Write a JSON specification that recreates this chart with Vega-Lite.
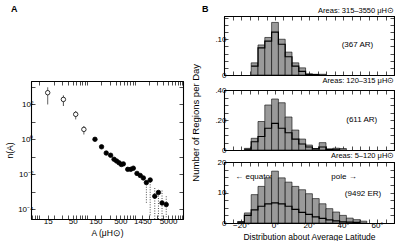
{
  "$schema": "https://vega.github.io/schema/vega-lite/v6.json",
  "padding": {"left": 5, "top": 4, "right": 0, "bottom": 0},
  "spacing": 6,
  "config": {
    "font": "Liberation Sans",
    "view": {"stroke": "black", "strokeWidth": 1},
    "axis": {"domain": true, "domainColor": "black", "domainWidth": 1.1, "grid": false, "tickColor": "black", "tickSize": -4, "tickWidth": 0.7, "labelFontSize": 8, "labelColor": "black", "labelPadding": 2, "titleFontSize": 8.5, "titleFontWeight": "normal", "titleColor": "black", "labelOverlap": false, "labelFlush": false},
    "title": {"fontSize": 9, "fontWeight": "bold", "color": "black"}
  },
  "datasets": {
    "areas": [
      {"area": 15, "n": 470, "lo": 100, "hi": 950, "kind": "open", "bar": "solid"},
      {"area": 32, "n": 193, "lo": 81, "hi": 330, "kind": "open", "bar": "solid"},
      {"area": 58, "n": 27, "lo": 13.9, "hi": 42, "kind": "open", "bar": "solid"},
      {"area": 86, "n": 3.7, "lo": 1.9, "hi": 5.8, "kind": "open", "bar": "solid"},
      {"area": 147, "n": 1.0, "kind": "filled"},
      {"area": 202, "n": 0.37, "kind": "filled"},
      {"area": 253, "n": 0.163, "kind": "filled"},
      {"area": 313, "n": 0.122, "kind": "filled"},
      {"area": 369, "n": 0.072, "kind": "filled"},
      {"area": 417, "n": 0.057, "kind": "filled"},
      {"area": 470, "n": 0.045, "kind": "filled"},
      {"area": 525, "n": 0.036, "kind": "filled"},
      {"area": 578, "n": 0.039, "kind": "filled"},
      {"area": 715, "n": 0.019, "kind": "filled"},
      {"area": 826, "n": 0.019, "kind": "filled"},
      {"area": 936, "n": 0.022, "kind": "filled"},
      {"area": 1117, "n": 0.0111, "kind": "filled"},
      {"area": 1310, "n": 0.0084, "kind": "filled"},
      {"area": 1520, "n": 0.0061, "kind": "filled"},
      {"area": 1758, "n": 0.0033, "lo": 0.00023, "hi": 0.0045, "kind": "filled", "bar": "dotted"},
      {"area": 2113, "n": 0.00467, "lo": 0.000044, "hi": 0.006, "kind": "filled", "bar": "dotted"},
      {"area": 2636, "n": 0.00055, "lo": 0.00001, "hi": 0.0017, "kind": "filled", "bar": "dotted"},
      {"area": 3148, "n": 0.0009, "lo": 0.00001, "hi": 0.0013, "kind": "filled", "bar": "dotted"},
      {"area": 3744, "n": 0.000226, "lo": 0.00001, "hi": 0.00117, "kind": "filled", "bar": "dotted"},
      {"area": 4586, "n": 0.000181, "lo": 0.000034, "hi": 0.00061, "kind": "filled", "bar": "dotted"}
    ],
    "top": [
      {"start": -14, "end": -10, "all": 0.034, "sub": 0.025},
      {"start": -10, "end": -6, "all": 0.084, "sub": 0.076},
      {"start": -6, "end": -2, "all": 0.105, "sub": 0.095},
      {"start": -2, "end": 2, "all": 0.147, "sub": 0.12},
      {"start": 2, "end": 6, "all": 0.10, "sub": 0.086},
      {"start": 6, "end": 10, "all": 0.064, "sub": 0.051},
      {"start": 10, "end": 14, "all": 0.034, "sub": 0.025},
      {"start": 14, "end": 18, "all": 0.02, "sub": 0.01},
      {"start": 18, "end": 22, "all": 0.003, "sub": 0.002},
      {"start": 22, "end": 26, "all": 0.002, "sub": 0.001},
      {"start": 26, "end": 30, "all": 0.002, "sub": 0.001}
    ],
    "mid": [
      {"start": -18, "end": -14, "all": 0.011, "sub": 0.005},
      {"start": -14, "end": -10, "all": 0.078, "sub": 0.055},
      {"start": -10, "end": -6, "all": 0.19, "sub": 0.09},
      {"start": -6, "end": -2, "all": 0.30, "sub": 0.145},
      {"start": -2, "end": 2, "all": 0.34, "sub": 0.178},
      {"start": 2, "end": 6, "all": 0.315, "sub": 0.145},
      {"start": 6, "end": 10, "all": 0.22, "sub": 0.115},
      {"start": 10, "end": 14, "all": 0.133, "sub": 0.072},
      {"start": 14, "end": 18, "all": 0.073, "sub": 0.04},
      {"start": 18, "end": 22, "all": 0.033, "sub": 0.02},
      {"start": 22, "end": 26, "all": 0.01, "sub": 0.008},
      {"start": 26, "end": 30, "all": 0.049, "sub": 0.02},
      {"start": 30, "end": 34, "all": 0.007, "sub": 0.004},
      {"start": 34, "end": 38, "all": 0.012, "sub": 0.005},
      {"start": 38, "end": 42, "all": 0.01, "sub": 0.004}
    ],
    "bot": [
      {"start": -22, "end": -18, "all": 0.5, "sub": 0.3},
      {"start": -18, "end": -14, "all": 3.3, "sub": 2.5},
      {"start": -14, "end": -10, "all": 9.3, "sub": 4.3},
      {"start": -10, "end": -6, "all": 12, "sub": 5.5},
      {"start": -6, "end": -2, "all": 14.8, "sub": 6.3},
      {"start": -2, "end": 2, "all": 17, "sub": 6.6},
      {"start": 2, "end": 6, "all": 14.8, "sub": 6.3},
      {"start": 6, "end": 10, "all": 13.4, "sub": 5.5},
      {"start": 10, "end": 14, "all": 12, "sub": 4.5},
      {"start": 14, "end": 18, "all": 10.9, "sub": 3.5},
      {"start": 18, "end": 22, "all": 9.6, "sub": 2.8},
      {"start": 22, "end": 26, "all": 8, "sub": 2.0},
      {"start": 26, "end": 30, "all": 6.3, "sub": 1.5},
      {"start": 30, "end": 34, "all": 4.7, "sub": 1.0},
      {"start": 34, "end": 38, "all": 3.6, "sub": 0.7},
      {"start": 38, "end": 42, "all": 2.5, "sub": 0.4},
      {"start": 42, "end": 46, "all": 1.6, "sub": 0.3},
      {"start": 46, "end": 50, "all": 1.1, "sub": 0.2},
      {"start": 50, "end": 54, "all": 0.6, "sub": 0.1}
    ]
  },
  "hconcat": [
    {
      "spacing": 10,
      "vconcat": [
        {
          "width": 152,
          "height": 54,
          "view": {"stroke": null},
          "title": {"text": "A", "anchor": "start", "frame": "group", "dx": -20, "offset": 2},
          "data": {"values": [{}]},
          "mark": {"type": "text", "text": ""}
        },
        {
          "width": 152,
          "height": 138,
          "data": {"name": "areas"},
          "resolve": {"axis": {"x": "independent", "y": "independent"}},
          "layer": [
            {
              "mark": {"type": "rule", "strokeWidth": 0.7, "clip": true, "color": "black"},
              "encoding": {
                "x": {"field": "area", "type": "quantitative", "scale": {"type": "log", "domain": [6.7, 10300], "nice": false}, "title": "A (μH⊙)",
                      "axis": {"values": [7, 8, 9, 10, 15, 20, 30, 40, 50, 60, 70, 80, 90, 100, 150, 200, 300, 400, 500, 600, 700, 800, 900, 1000, 1450, 2000, 3000, 4000, 5000, 6000, 7000, 8000, 9000, 10000],
                               "labelExpr": "indexof([15, 50, 150, 500, 1450, 5000], datum.value) >= 0 ? format(datum.value, 'd') : ''", "titlePadding": 3}},
                "y": {"field": "lo", "type": "quantitative", "scale": {"type": "log", "domain": [0.000027, 2200], "nice": false}, "title": "n(A)",
                      "axis": {"values": [0.0001, 0.001, 0.01, 0.1, 1, 10, 100, 1000],
                               "labelExpr": "datum.value == 100 ? '10²' : datum.value == 1 ? '10⁰' : datum.value == 0.01 ? '10⁻²' : datum.value == 0.0001 ? '10⁻⁴' : ''", "titlePadding": 3}},
                "y2": {"field": "hi"},
                "strokeDash": {"field": "bar", "type": "nominal", "scale": {"domain": ["solid", "dotted"], "range": [[1, 0], [1, 1.5]]}, "legend": null}
              }
            },
            {
              "mark": {"type": "point", "shape": "circle", "size": 20, "filled": true, "stroke": "black", "strokeWidth": 0.8, "opacity": 1},
              "encoding": {
                "x": {"field": "area", "type": "quantitative", "title": null,
                      "axis": {"orient": "top", "labels": false, "values": [10, 20, 30, 40, 50, 60, 70, 80, 90, 100, 200, 300, 400, 500, 600, 700, 800, 900, 1000, 2000, 3000, 4000, 5000, 6000, 7000, 8000, 9000, 10000]}},
                "y": {"field": "n", "type": "quantitative", "title": null,
                      "axis": {"orient": "right", "labels": false, "values": [0.0001, 0.001, 0.01, 0.1, 1, 10, 100, 1000]}},
                "fill": {"field": "kind", "type": "nominal", "scale": {"domain": ["open", "filled"], "range": ["white", "black"]}, "legend": null}
              }
            }
          ]
        }
      ]
    },
    {
      "spacing": -4,
      "title": {"text": "Number of Regions per Day", "orient": "left", "anchor": "middle", "fontSize": 9.5, "fontWeight": "normal", "offset": 1},
      "vconcat": [
        {
          "width": 170,
          "height": 59,
          "title": {"text": "B", "anchor": "start", "frame": "group", "dx": -22, "offset": -7},
          "resolve": {"axis": {"x": "independent", "y": "independent"}},
          "layer": [
            {
              "data": {"name": "top"},
              "mark": {"type": "rect", "fill": "#9a9a9a", "stroke": "black", "strokeWidth": 0.6},
              "encoding": {
                "x": {"field": "start", "type": "quantitative", "scale": {"domain": [-30, 70], "nice": false}, "title": null,
                      "axis": {"values": [-30, -25, -20, -15, -10, -5, 0, 5, 10, 15, 20, 25, 30, 35, 40, 45, 50, 55, 60, 65, 70], "labels": false}},
                "x2": {"field": "end"},
                "y": {"field": "all", "type": "quantitative", "scale": {"domain": [0, 0.165], "nice": false}, "title": null,
                      "axis": {"values": [0, 0.02, 0.04, 0.06, 0.08, 0.1, 0.12, 0.14, 0.16], "labelExpr": "datum.value == 0 ? '0' : (abs(datum.value - 0.1) < 0.000001 ? '.10' : '')"}},
                "y2": {"datum": 0}
              }
            },
            {
              "data": {"name": "top"},
              "mark": {"type": "line", "interpolate": "step-after", "stroke": "black", "strokeWidth": 1.2},
              "encoding": {
                "x": {"field": "start", "type": "quantitative", "title": null,
                      "axis": {"orient": "top", "labels": false, "values": [-30, -25, -20, -15, -10, -5, 0, 5, 10, 15, 20, 25, 30, 35, 40, 45, 50, 55, 60, 65, 70]}},
                "y": {"field": "sub", "type": "quantitative", "title": null,
                      "axis": {"orient": "right", "labels": false, "values": [0, 0.02, 0.04, 0.06, 0.08, 0.1, 0.12, 0.14, 0.16]}}
              }
            },
            {
              "data": {"values": [{}]},
              "mark": {"type": "text", "align": "right", "baseline": "bottom", "fontSize": 7.5, "dy": -1},
              "encoding": {"x": {"datum": 70, "axis": null}, "y": {"datum": 0.165, "axis": null}, "text": {"value": "Areas: 315–3550 μH⊙"}}
            },
            {
              "data": {"values": [{}]},
              "mark": {"type": "text", "fontSize": 8},
              "encoding": {"x": {"datum": 48.5, "axis": null}, "y": {"datum": 0.083, "axis": null}, "text": {"value": "(367 AR)"}}
            }
          ]
        },
        {
          "width": 170,
          "height": 60,
          "title": {"text": "Areas: 120–315 μH⊙", "anchor": "end", "fontSize": 7.5, "fontWeight": "normal", "offset": 2},
          "resolve": {"axis": {"x": "independent", "y": "independent"}},
          "layer": [
            {
              "data": {"name": "mid"},
              "mark": {"type": "rect", "fill": "#9a9a9a", "stroke": "black", "strokeWidth": 0.6},
              "encoding": {
                "x": {"field": "start", "type": "quantitative", "scale": {"domain": [-30, 70], "nice": false}, "title": null,
                      "axis": {"values": [-30, -25, -20, -15, -10, -5, 0, 5, 10, 15, 20, 25, 30, 35, 40, 45, 50, 55, 60, 65, 70], "labels": false}},
                "x2": {"field": "end"},
                "y": {"field": "all", "type": "quantitative", "scale": {"domain": [0, 0.4], "nice": false}, "title": null,
                      "axis": {"values": [0, 0.05, 0.1, 0.15, 0.2, 0.25, 0.3, 0.35, 0.4], "labelExpr": "datum.value == 0 ? '0' : (abs(datum.value - 0.2) < 0.000001 ? '.20' : (abs(datum.value - 0.4) < 0.000001 ? '.40' : ''))"}},
                "y2": {"datum": 0}
              }
            },
            {
              "data": {"name": "mid"},
              "mark": {"type": "line", "interpolate": "step-after", "stroke": "black", "strokeWidth": 1.2},
              "encoding": {
                "x": {"field": "start", "type": "quantitative", "title": null,
                      "axis": {"orient": "top", "labels": false, "values": [-30, -25, -20, -15, -10, -5, 0, 5, 10, 15, 20, 25, 30, 35, 40, 45, 50, 55, 60, 65, 70]}},
                "y": {"field": "sub", "type": "quantitative", "title": null,
                      "axis": {"orient": "right", "labels": false, "values": [0, 0.05, 0.1, 0.15, 0.2, 0.25, 0.3, 0.35, 0.4]}}
              }
            },
            {
              "data": {"values": [{}]},
              "mark": {"type": "text", "fontSize": 8},
              "encoding": {"x": {"datum": 51, "axis": null}, "y": {"datum": 0.2, "axis": null}, "text": {"value": "(611 AR)"}}
            }
          ]
        },
        {
          "width": 170,
          "height": 61,
          "title": {"text": "Areas: 5–120 μH⊙", "anchor": "end", "fontSize": 7.5, "fontWeight": "normal", "offset": -1},
          "resolve": {"axis": {"x": "independent", "y": "independent"}},
          "layer": [
            {
              "data": {"values": [{}]},
              "mark": {"type": "text", "fontSize": 8},
              "encoding": {"x": {"datum": -12.4, "axis": null}, "y": {"datum": 15.1, "axis": null}, "text": {"value": "← equator"}}
            },
            {
              "data": {"name": "bot"},
              "mark": {"type": "rect", "fill": "#9a9a9a", "stroke": "black", "strokeWidth": 0.6},
              "encoding": {
                "x": {"field": "start", "type": "quantitative", "scale": {"domain": [-30, 70], "nice": false}, "title": "Distribution about Average Latitude",
                      "axis": {"values": [-30, -25, -20, -15, -10, -5, 0, 5, 10, 15, 20, 25, 30, 35, 40, 45, 50, 55, 60, 65, 70], "labelExpr": "datum.value % 20 == 0 ? datum.label + '°' : ''", "titlePadding": 3}},
                "x2": {"field": "end"},
                "y": {"field": "all", "type": "quantitative", "scale": {"domain": [0, 20], "nice": false}, "title": null,
                      "axis": {"values": [0, 2.5, 5, 7.5, 10, 12.5, 15, 17.5, 20], "labelExpr": "datum.value % 10 == 0 ? datum.label : ''"}},
                "y2": {"datum": 0}
              }
            },
            {
              "data": {"name": "bot"},
              "mark": {"type": "line", "interpolate": "step-after", "stroke": "black", "strokeWidth": 1.2},
              "encoding": {
                "x": {"field": "start", "type": "quantitative", "title": null,
                      "axis": {"orient": "top", "labels": false, "values": [-30, -25, -20, -15, -10, -5, 0, 5, 10, 15, 20, 25, 30, 35, 40, 45, 50, 55, 60, 65, 70]}},
                "y": {"field": "sub", "type": "quantitative", "title": null,
                      "axis": {"orient": "right", "labels": false, "values": [0, 2.5, 5, 7.5, 10, 12.5, 15, 17.5, 20]}}
              }
            },
            {
              "data": {"values": [{}]},
              "mark": {"type": "text", "fontSize": 8},
              "encoding": {"x": {"datum": 40.6, "axis": null}, "y": {"datum": 15.1, "axis": null}, "text": {"value": "pole →"}}
            },
            {
              "data": {"values": [{}]},
              "mark": {"type": "text", "fontSize": 8},
              "encoding": {"x": {"datum": 51.8, "axis": null}, "y": {"datum": 9.6, "axis": null}, "text": {"value": "(9492 ER)"}}
            }
          ]
        }
      ]
    }
  ]
}
